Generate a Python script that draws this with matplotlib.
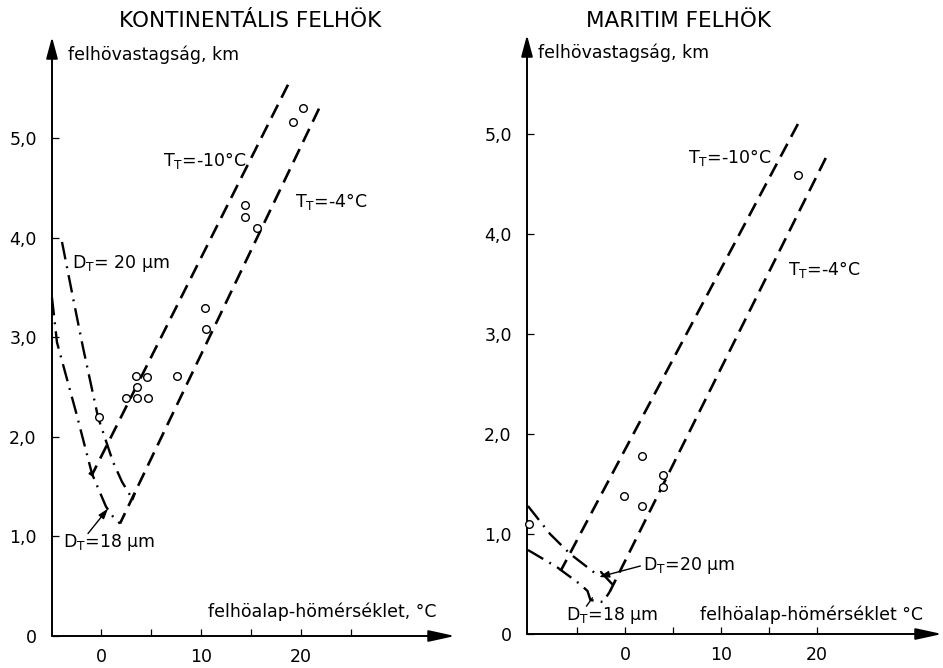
import matplotlib
matplotlib.use("Agg")
import matplotlib.pyplot as plt

plt.rcParams['font.family'] = ['DejaVu Sans']
plt.rcParams['mathtext.default'] = 'regular'

# ---------------- data: continental clouds ----------------
kont_obs_x = [20.2, 19.2, 14.4, 14.4, 15.6, 10.4, 10.5, 3.5, 4.6, 3.6, 2.5, 3.6, 4.7, 7.6, -0.2]
kont_obs_y = [5.31, 5.17, 4.33, 4.21, 4.10, 3.30, 3.09, 2.61, 2.60, 2.50, 2.39, 2.39, 2.39, 2.61, 2.20]

kont_tt10_x = [18.7, -0.9, -1.2]
kont_tt10_y = [5.54, 1.62, 1.64]
kont_tt4_x = [21.8, 1.9]
kont_tt4_y = [5.30, 1.13]
kont_dt20_x = [-3.9, -2.8, -1.8, -0.3, 1.2, 2.1, 3.0, 3.1, 3.4]
kont_dt20_y = [3.96, 3.40, 2.90, 2.20, 1.75, 1.55, 1.40, 1.36, 1.44]
kont_dt18_x = [-4.9, -4.4, -2.5, -0.9, 0.5, 1.2, 1.9]
kont_dt18_y = [3.40, 2.95, 2.25, 1.63, 1.30, 1.20, 1.13]

# ---------------- data: maritime clouds ----------------
mar_obs_x = [18.0, 1.8, -0.1, 1.8, 4.0, 4.0, -10.0]
mar_obs_y = [4.59, 1.78, 1.38, 1.28, 1.59, 1.47, 1.10]

mar_tt10_x = [18.0, -6.7]
mar_tt10_y = [5.10, 0.63]
mar_tt4_x = [20.9, -1.6]
mar_tt4_y = [4.76, 0.42]
mar_dt20_x = [-10.1, -7.8, -5.7, -3.0, -2.5, -1.25]
mar_dt20_y = [1.28, 1.00, 0.80, 0.60, 0.62, 0.49]
mar_dt18_x = [-10.1, -7.1, -4.7, -3.9, -3.6, -2.3, -1.6]
mar_dt18_y = [0.84, 0.67, 0.50, 0.43, 0.34, 0.32, 0.42]

ytick_vals = [0, 1, 2, 3, 4, 5]
ytick_labels = ["0", "1,0", "2,0", "3,0", "4,0", "5,0"]
xtick_vals = [0, 10, 20]
xtick_labels = ["0", "10", "20"]

W, H = 943, 668
fig = plt.figure(figsize=(W / 100, H / 100), dpi=100)
fig.patch.set_facecolor('white')

DASH = (0, (5.5, 3.0))
DASHDOT = (0, (7.5, 3.0, 0.8, 3.0))
FS = 12.5


def make_axes(px_left, px_right, px_bottom, px_top, xlim, ylim, minor):
    ax = fig.add_axes([px_left / W, 1 - px_bottom / H,
                       (px_right - px_left) / W, (px_bottom - px_top) / H])
    ax.set_xlim(*xlim)
    ax.set_ylim(*ylim)
    for s in ax.spines.values():
        s.set_visible(False)
    ax.set_facecolor('none')
    # axis lines with arrows
    ax.annotate('', xy=(xlim[1], 0), xytext=(xlim[0], 0),
                arrowprops=dict(arrowstyle='-|>,head_length=1.6,head_width=0.35',
                                color='black', lw=1.4, shrinkA=0, shrinkB=0),
                annotation_clip=False)
    ax.annotate('', xy=(xlim[0], ylim[1]), xytext=(xlim[0], 0),
                arrowprops=dict(arrowstyle='-|>,head_length=1.3,head_width=0.35',
                                color='black', lw=1.4, shrinkA=0, shrinkB=0),
                annotation_clip=False)
    ax.set_yticks(ytick_vals)
    ax.set_yticklabels(ytick_labels)
    ax.set_xticks(xtick_vals)
    ax.set_xticklabels(xtick_labels)
    ax.set_xticks(minor, minor=True)
    ax.tick_params(axis='both', which='both', direction='in', length=5, width=0.9,
                   labelsize=FS, colors='black')
    ax.tick_params(axis='y', pad=11)
    ax.tick_params(axis='x', pad=9)
    ax.tick_params(top=False, right=False)
    return ax


# ---------------- left panel ----------------
axL = make_axes(52, 455, 636, 37, (-4.9, 35.4), (0, 6.02), [5, 15, 25])
axL.plot(kont_tt10_x, kont_tt10_y, color='black', lw=1.9, ls=DASH, clip_on=False)
axL.plot(kont_tt4_x, kont_tt4_y, color='black', lw=1.9, ls=DASH, clip_on=False)
axL.plot(kont_dt20_x, kont_dt20_y, color='black', lw=1.7, ls=DASHDOT, clip_on=False)
axL.plot(kont_dt18_x, kont_dt18_y, color='black', lw=1.7, ls=DASHDOT, clip_on=False)
axL.plot(kont_obs_x, kont_obs_y, 'o', mfc='white', mec='black', ms=5.5, mew=1.0,
         clip_on=False, zorder=5)

axL.text(14.6, 4.78, r'T$_{T}$=-10°C', ha='right', va='center', fontsize=FS)
axL.text(19.4, 4.37, r'T$_{T}$=-4°C', ha='left', va='center', fontsize=FS)
axL.text(-2.9, 3.74, r'D$_{T}$= 20 µm', ha='left', va='center', fontsize=FS)
axL.text(-3.8, 0.94, r'D$_{T}$=18 µm', ha='left', va='center', fontsize=FS)
axL.annotate('', xy=(0.7, 1.28), xytext=(-1.3, 1.03),
             arrowprops=dict(arrowstyle='-|>,head_length=0.6,head_width=0.2',
                             color='black', lw=1.0, shrinkA=0, shrinkB=0))
axL.text(-3.3, 5.84, 'felhövastagság, km', ha='left', va='center', fontsize=FS)
axL.text(10.7, 0.24, 'felhöalap-hömérséklet, °C', ha='left', va='center', fontsize=FS)

# ---------------- right panel ----------------
axR = make_axes(527, 942, 634, 35, (-10.2, 33.0), (0, 5.99), [-5, 5, 15])
axR.plot(mar_tt10_x, mar_tt10_y, color='black', lw=1.9, ls=DASH, clip_on=False)
axR.plot(mar_tt4_x, mar_tt4_y, color='black', lw=1.9, ls=DASH, clip_on=False)
axR.plot(mar_dt20_x, mar_dt20_y, color='black', lw=1.7, ls=DASHDOT, clip_on=False)
axR.plot(mar_dt18_x, mar_dt18_y, color='black', lw=1.7, ls=DASHDOT, clip_on=False)
axR.plot(mar_obs_x, mar_obs_y, 'o', mfc='white', mec='black', ms=5.5, mew=1.0,
         clip_on=False, zorder=5)

axR.text(15.3, 4.76, r'T$_{T}$=-10°C', ha='right', va='center', fontsize=FS)
axR.text(17.0, 3.64, r'T$_{T}$=-4°C', ha='left', va='center', fontsize=FS)
axR.text(1.9, 0.69, r'D$_{T}$=20 µm', ha='left', va='center', fontsize=FS)
axR.text(-6.1, 0.19, r'D$_{T}$=18 µm', ha='left', va='center', fontsize=FS)
axR.annotate('', xy=(-2.7, 0.57), xytext=(1.6, 0.68),
             arrowprops=dict(arrowstyle='-|>,head_length=0.6,head_width=0.2',
                             color='black', lw=1.0, shrinkA=0, shrinkB=0))
axR.plot([-4.0, -3.4], [0.28, 0.36], color='black', lw=1.0)
axR.text(-9.1, 5.81, 'felhövastagság, km', ha='left', va='center', fontsize=FS)
axR.text(7.8, 0.19, 'felhöalap-hömérséklet °C', ha='left', va='center', fontsize=FS)

# ---------------- titles ----------------
fig.text(250 / W, 1 - 21 / H, 'KONTINENTÁLIS FELHÖK', ha='center', va='center', fontsize=15.5)
fig.text(679 / W, 1 - 21 / H, 'MARITIM FELHÖK', ha='center', va='center', fontsize=15.5)

fig.savefig('out.png', dpi=100, facecolor='white')
